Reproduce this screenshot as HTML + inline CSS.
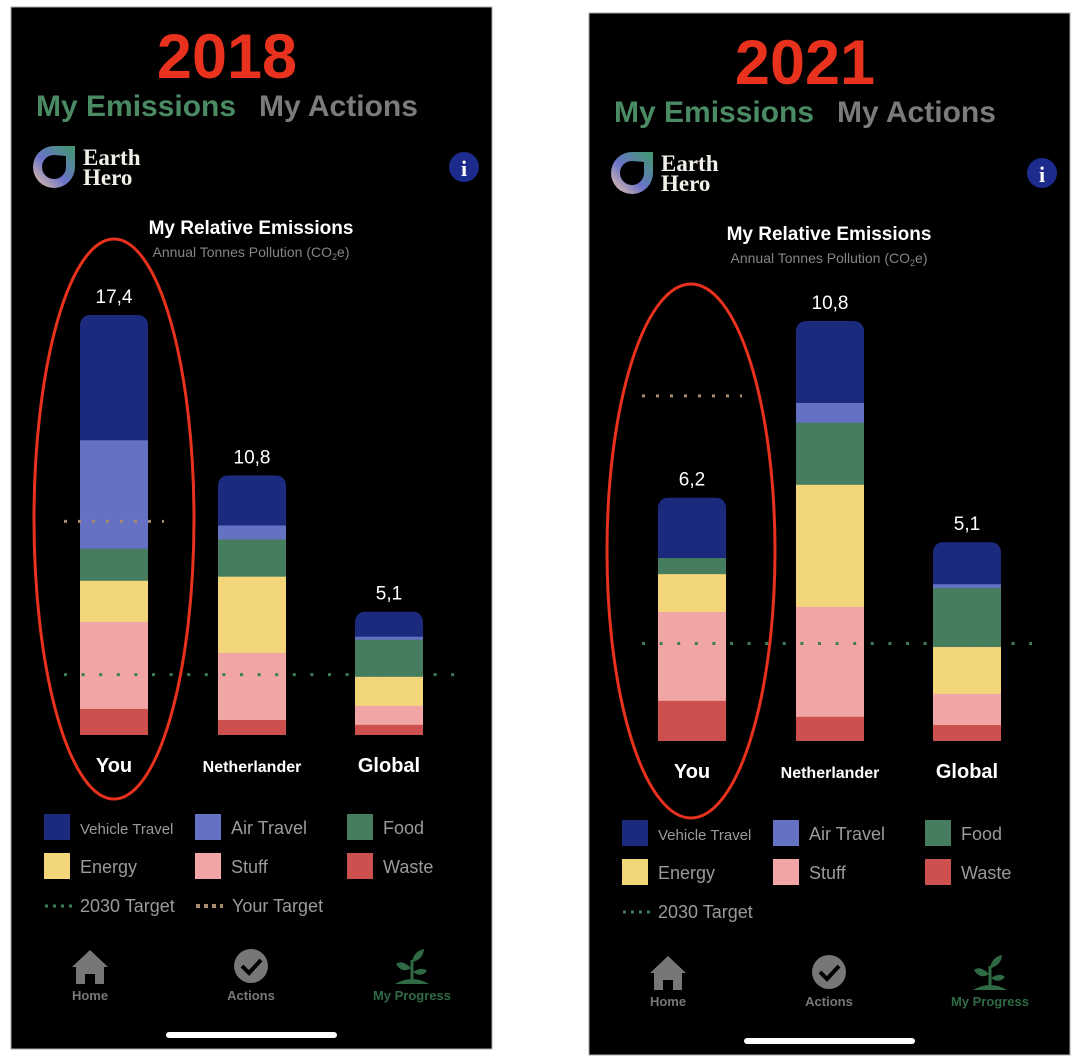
<!DOCTYPE html>
<html><head><meta charset="utf-8"><style>
html,body{margin:0;padding:0;background:#fff;width:1086px;height:1064px;overflow:hidden}
svg{display:block}
text{font-family:"Liberation Sans",sans-serif}
</style></head><body>
<svg id="root" width="1086" height="1064" viewBox="0 0 1086 1064" xmlns="http://www.w3.org/2000/svg">
<defs>
<linearGradient id="lg" x1="0" y1="1" x2="1" y2="0">
<stop offset="0" stop-color="#f3c9a6"/><stop offset="0.45" stop-color="#6a73c9"/><stop offset="1" stop-color="#3f9a6a"/>
</linearGradient>
</defs>
</svg>
<script>
const categories = ["You", "Netherlander", "Global"];
const seriesNames = ["Vehicle Travel", "Air Travel", "Food", "Energy", "Stuff", "Waste"];
const vehicle2018 = [5.19, 2.08, 1.04];
const air2018 = [4.49, 0.58, 0.12];
const food2018 = [1.33, 1.54, 1.54];
const energy2018 = [1.70, 3.16, 1.20];
const stuff2018 = [3.61, 2.78, 0.79];
const waste2018 = [1.08, 0.62, 0.42];
const totals2018 = ["17,4", "10,8", "5,1"];
const vehicle2021 = [1.55, 2.10, 1.08];
const air2021 = [0.00, 0.51, 0.10];
const food2021 = [0.41, 1.59, 1.51];
const energy2021 = [0.97, 3.13, 1.20];
const stuff2021 = [2.28, 2.82, 0.80];
const waste2021 = [1.03, 0.62, 0.41];
const totals2021 = ["6,2", "10,8", "5,1"];
const target2030 = [2.5, 2.5];
const yourTarget = [8.85, 8.85];
const years = ["2018", "2021"];

const colors = ["#1b2a7d", "#6571c3", "#457d5e", "#f4d67a", "#f1a6a5", "#cc514e"];
const NS = "http://www.w3.org/2000/svg";
const root = document.getElementById('root');
function mk(tag, attrs, parent, txt){
  const e = document.createElementNS(NS, tag);
  for (const k in attrs) e.setAttribute(k, attrs[k]);
  if (txt !== undefined) e.textContent = txt;
  (parent || root).appendChild(e);
  return e;
}

function phone(idx, ox, oy, series, totals){
  const g = mk('g', {transform: `translate(${ox},${oy})`});
  
  
  const bg = mk('rect', {x: 11, y: 7, width: 481, height: 1042, fill: '#000', stroke: '#aaa', 'stroke-width': 1}, g);
  
  
  const yr = mk('text', {x: 227, y: 78, 'text-anchor': 'middle', 'font-size': 63, 'font-weight': 'bold', fill: '#e8321e'}, g, years[idx]);
  
  
  const t1 = mk('text', {x: 36, y: 116, 'font-size': 30, 'font-weight': 'bold', fill: '#4a8b64'}, g, 'My Emissions');
  
  
  const t2 = mk('text', {x: 259, y: 116, 'font-size': 30, 'font-weight': 'bold', fill: '#7b7b7b'}, g, 'My Actions');
  
  
  // logo
  const lg = mk('g', {}, g);
  
  
  mk('path', {d: 'M75 146 L75 167 A21 21 0 1 1 54 146 Z', fill: 'url(#lg)'}, lg);
  mk('path', {d: 'M66 156 L66 167 A12 12 0 1 1 54 155 Z', fill: '#000'}, lg);
  mk('text', {x: 83, y: 165, 'font-size': 23, 'font-weight': 'bold', fill: '#f2efe8', style: 'font-family:"Liberation Serif",serif'}, lg, 'Earth');
  mk('text', {x: 83, y: 185, 'font-size': 23, 'font-weight': 'bold', fill: '#f2efe8', style: 'font-family:"Liberation Serif",serif'}, lg, 'Hero');
  const info = mk('g', {}, g);
  
  
  mk('circle', {cx: 464, cy: 167, r: 15, fill: '#1c2b8c'}, info);
  mk('text', {x: 464, y: 176, 'text-anchor': 'middle', 'font-size': 22, 'font-weight': 'bold', fill: '#fff', style: 'font-family:"Liberation Serif",serif'}, info, 'i');
  const ct = mk('text', {x: 251, y: 234, 'text-anchor': 'middle', 'font-size': 19, 'font-weight': 'bold', fill: '#fff'}, g, 'My Relative Emissions');
  
  
  const st = mk('text', {x: 251, y: 257, 'text-anchor': 'middle', 'font-size': 14, fill: '#858585'}, g);
  
  
  st.innerHTML = 'Annual Tonnes Pollution (CO<tspan font-size="9" dy="3">2</tspan><tspan dy="-3">e)</tspan>';

  // chart
  const base = 735, plotH = 420;
  const sums = categories.map((c, i) => series.reduce((s, a) => s + a[i], 0));
  const maxV = Math.max(...sums);
  const y = v => base - v / maxV * plotH;
  const barX = [80, 218, 355], barW = 68;
  categories.forEach((cat, i) => {
    const bg2 = mk('g', {}, g);
    
    
    const clipId = 'clip' + idx + '_' + i;
    const cp = mk('clipPath', {id: clipId}, bg2);
    mk('rect', {x: barX[i], y: y(sums[i]), width: barW, height: base - y(sums[i]) + 12, rx: 10}, cp);
    const segs = mk('g', {'clip-path': `url(#${clipId})`}, bg2);
    let acc = sums[i];
    series.forEach((arr, s) => {
      const v = arr[i];
      if (v <= 0) return;
      const top = y(acc), bot = y(acc - v);
      const r = mk('rect', {x: barX[i], y: top, width: barW, height: bot - top + 0.3, fill: colors[s]}, segs);
      
      
      acc -= v;
    });
    mk('rect', {x: barX[i] - 2, y: base, width: barW + 4, height: 14, fill: '#000'}, bg2);
    const vl = mk('text', {x: barX[i] + barW / 2, y: y(sums[i]) - 12, 'text-anchor': 'middle', 'font-size': 19, fill: '#fff'}, g, totals[i]);
    
    
    const cl = mk('text', {x: barX[i] + barW / 2, y: 772, 'text-anchor': 'middle', 'font-size': i == 1 ? 16 : 20, 'font-weight': 'bold', fill: '#fff'}, g, cat);
    
    
  });
  const yt = mk('line', {x1: 64, x2: 164, y1: y(yourTarget[idx]), y2: y(yourTarget[idx]), stroke: '#a68a6a', 'stroke-width': 3, 'stroke-dasharray': '3 11'}, g);
  
  
  const tl = mk('line', {x1: 64, x2: 454, y1: y(target2030[idx]), y2: y(target2030[idx]), stroke: '#3e7d58', 'stroke-width': 3, 'stroke-dasharray': '3 14.6'}, g);
  
  

  // legend
  const lx = [44, 195, 347], ly = [814, 853];
  seriesNames.forEach((n, s) => {
    const le = mk('g', {}, g);
    
    
    const cx = lx[s % 3], cy = ly[Math.floor(s / 3)];
    mk('rect', {x: cx, y: cy, width: 26, height: 26, fill: colors[s]}, le);
    mk('text', {x: cx + 36, y: cy + 20, 'font-size': s == 0 ? 15 : 18, fill: '#9a9a9a'}, le, n);
  });
  const l1 = mk('g', {}, g);
  
  
  mk('line', {x1: 45, x2: 72, y1: 906, y2: 906, stroke: '#3e7d58', 'stroke-width': 3, 'stroke-dasharray': '3 5'}, l1);
  mk('text', {x: 80, y: 912, 'font-size': 18, fill: '#9a9a9a'}, l1, '2030 Target');
  if (idx === 0) {
    const l2 = mk('g', {}, g);
    
    
    mk('line', {x1: 196, x2: 223, y1: 906, y2: 906, stroke: '#a68a6a', 'stroke-width': 4, 'stroke-dasharray': '4 4'}, l2);
    mk('text', {x: 232, y: 912, 'font-size': 18, fill: '#9a9a9a'}, l2, 'Your Target');
  }
  // ellipse
  const el = mk('ellipse', idx === 0 ? {cx: 114, cy: 519, rx: 80, ry: 280} : {cx: 113, cy: 545, rx: 84, ry: 267}, g);
  el.setAttribute('fill', 'none'); el.setAttribute('stroke', '#e8321e'); el.setAttribute('stroke-width', 3);
  
  

  // nav
  const nh = mk('g', {}, g);
  
  
  mk('path', {d: 'M90 950 L108 967 L104 967 L104 984 L95 984 L95 974 L85 974 L85 984 L76 984 L76 967 L72 967 Z', fill: '#777'}, nh);
  mk('text', {x: 90, y: 1000, 'text-anchor': 'middle', 'font-size': 13, 'font-weight': 'bold', fill: '#777'}, nh, 'Home');
  const na = mk('g', {}, g);
  
  
  mk('circle', {cx: 251, cy: 966, r: 17, fill: '#777'}, na);
  mk('path', {d: 'M242 966 L249 973 L261 960', fill: 'none', stroke: '#000', 'stroke-width': 4}, na);
  mk('text', {x: 251, y: 1000, 'text-anchor': 'middle', 'font-size': 13, 'font-weight': 'bold', fill: '#777'}, na, 'Actions');
  const np = mk('g', {}, g);
  
  
  mk('path', {d: 'M395 984 Q412 974 429 984 Z', fill: '#2f6a45'}, np);
  mk('path', {d: 'M412 980 L412 960', stroke: '#2f6a45', 'stroke-width': 3}, np);
  mk('path', {d: 'M412 962 Q414 951 424 949 Q423 960 412 962 Z', fill: '#2f6a45'}, np);
  mk('path', {d: 'M411 968 Q402 959 396 964 Q402 974 411 968 Z', fill: '#2f6a45'}, np);
  mk('path', {d: 'M413 972 Q422 966 427 971 Q421 978 413 972 Z', fill: '#2f6a45'}, np);
  mk('text', {x: 412, y: 1000, 'text-anchor': 'middle', 'font-size': 13, 'font-weight': 'bold', fill: '#2f6a45'}, np, 'My Progress');
  const hb = mk('rect', {x: 166, y: 1032, width: 171, height: 6, rx: 3, fill: '#fff'}, g);
  
  
}
phone(0, 0, 0, [vehicle2018, air2018, food2018, energy2018, stuff2018, waste2018], totals2018);
phone(1, 578, 6, [vehicle2021, air2021, food2021, energy2021, stuff2021, waste2021], totals2021);
</script>
</body></html>
